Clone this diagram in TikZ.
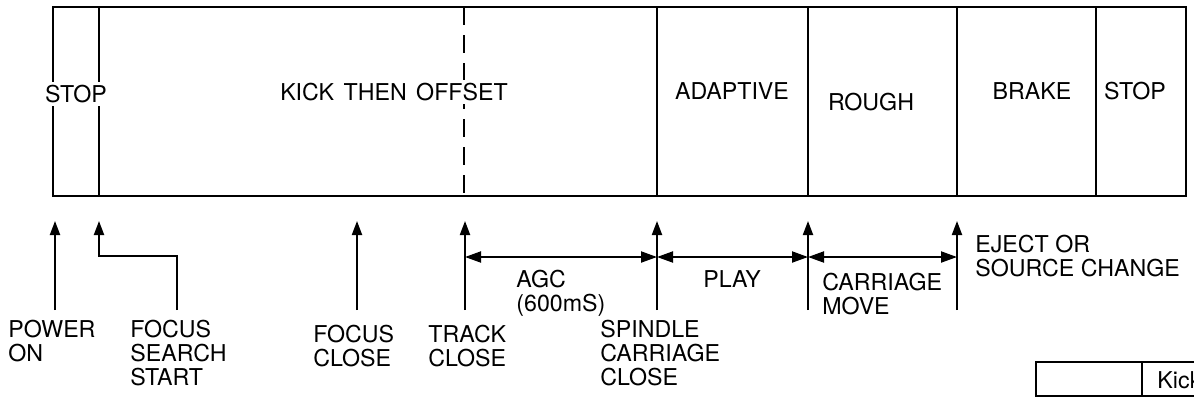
\documentclass[tikz,border=0pt]{standalone}
\usepackage{fontspec}
\setmainfont{TeX Gyre Heros}
\usetikzlibrary{arrows.meta}
\begin{document}
\begin{tikzpicture}[x=0.5pt,y=-0.5pt,
  lbl/.style={font=\fontsize{11.6pt}{12pt}\selectfont, inner sep=0pt, align=left, anchor=base west},
  stage/.style={font=\fontsize{11.6pt}{12pt}\selectfont, inner sep=1.5pt, fill=white},
  frame/.style={line width=1pt},
  evt/.style={line width=1pt, -{Triangle[length=7pt,width=5pt]}},
  span/.style={line width=1pt, {Triangle[length=8pt,width=5.5pt]}-{Triangle[length=8pt,width=5.5pt]}},
]
\useasboundingbox (0,0) rectangle (1194,398);
\clip (0,0) rectangle (1194,398);

% timing bar
\draw[frame] (53,7) rectangle (1186,196);
\draw[frame] (99,7) -- (99,196);
\draw[frame, dash pattern=on 9pt off 5pt] (464,7) -- (464,196);
\draw[frame] (657,7) -- (657,196);
\draw[frame] (808,7) -- (808,196);
\draw[frame] (957,7) -- (957,196);
\draw[frame] (1096,7) -- (1096,196);

\node[stage] (stopa) at (76,94) {STOP};
\node[stage] (kick) at (394,92) {KICK\hspace{1.5pt} THEN\hspace{1.5pt} OFFSET};
\node[stage] (adaptive) at (732,91) {ADAPTIVE};
\node[stage] (rough) at (871,102) {ROUGH};
\node[stage] (brake) at (1032,91) {BRAKE};
\node[stage] (stopb) at (1135,91) {STOP};

% event arrows
\coordinate (pw0) at (55,310);  \coordinate (pw1) at (55,221);
\coordinate (fs0) at (177,310); \coordinate (fs1) at (99,221);
\coordinate (fc0) at (357,310); \coordinate (fc1) at (357,221);
\coordinate (tc0) at (465,310); \coordinate (tc1) at (465,221);
\coordinate (sp0) at (657,310); \coordinate (sp1) at (657,221);
\coordinate (cm0) at (808,310); \coordinate (cm1) at (808,221);
\coordinate (ej0) at (957,310); \coordinate (ej1) at (957,221);

\draw[evt] (pw0) -- (pw1);
\draw[evt] (fs0) -- ++(0,-54) -| (fs1);
\draw[evt] (fc0) -- (fc1);
\draw[evt] (tc0) -- (tc1);
\draw[evt] (sp0) -- (sp1);
\draw[evt] (cm0) -- (cm1);
\draw[evt] (ej0) -- (ej1);

% interval arrows
\coordinate (h1) at (465,257);
\coordinate (h2) at (657,257);
\coordinate (h3) at (808,257);
\coordinate (h4) at (957,257);
\draw[span] (h1) -- (h2);
\draw[span] (h2) -- (h3);
\draw[span] (h3) -- (h4);

% labels (anchored at the baseline of their last line)
\node[lbl] (power) at (8,361) {POWER\\ON};
\node[lbl] (fss) at (130,385) {FOCUS\\SEARCH\\START};
\node[lbl] (fclose) at (313,366) {FOCUS\\CLOSE};
\node[lbl] (tclose) at (428,366) {TRACK\\CLOSE};
\node[lbl] (spindle) at (600,385) {SPINDLE\\CARRIAGE\\CLOSE};
\node[lbl] (agc) at (516,311) {AGC\\(600mS)};
\node[lbl] (play) at (703,287) {PLAY};
\node[lbl] (cmove) at (822,314) {CARRIAGE\\MOVE};
\node[lbl] (eject) at (975,276) {EJECT OR\\SOURCE CHANGE};

% legend fragment
\draw[frame] (1036,362) rectangle (1260,396);
\draw[frame] (1142,362) -- (1142,396);
\node[lbl] (legkick) at (1157,388) {Kick};
\end{tikzpicture}
\end{document}
